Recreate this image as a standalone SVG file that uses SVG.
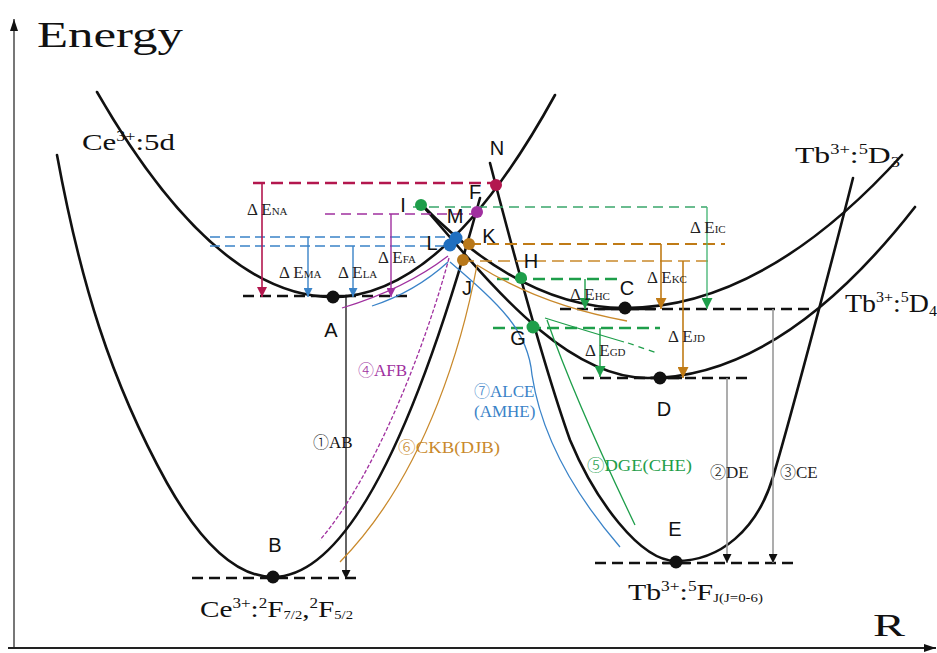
<svg xmlns="http://www.w3.org/2000/svg" width="937" height="653" viewBox="0 0 937 653">
<style>
.curve{fill:none;stroke:#111;stroke-width:2.6;stroke-linecap:round}
.lvl{fill:none;stroke:#111;stroke-width:2.4;stroke-dasharray:11 6}
.solid{fill:none;stroke:#111;stroke-width:2.4}
.lbl{font-family:"Liberation Sans","DejaVu Sans",sans-serif;font-size:20px;fill:#111;text-anchor:middle}
.big{font-family:"Liberation Serif",serif;fill:#111}
.de{font-family:"Liberation Serif",serif;font-size:17px;fill:#222}
.sub{font-size:11px}
.num{font-family:"Liberation Serif",serif;font-size:17px}
.cn{font-family:"Noto Sans CJK SC","DejaVu Sans",sans-serif;font-size:16px;font-weight:300}
.thin{fill:none;stroke-width:1.3}
</style>
<defs>
<marker id="ah-k" viewBox="0 0 10 10" refX="10" refY="5" markerWidth="9" markerHeight="9" markerUnits="userSpaceOnUse" orient="auto"><path d="M0,0 L10,5 L0,10 z" fill="#111"/></marker>
<marker id="ah-r" viewBox="0 0 10 10" refX="10" refY="5" markerWidth="10" markerHeight="10" markerUnits="userSpaceOnUse" orient="auto"><path d="M0,0 L10,5 L0,10 z" fill="#b3174e"/></marker>
<marker id="ah-b" viewBox="0 0 10 10" refX="10" refY="5" markerWidth="9" markerHeight="9" markerUnits="userSpaceOnUse" orient="auto"><path d="M0,0 L10,5 L0,10 z" fill="#3a83c8"/></marker>
<marker id="ah-p" viewBox="0 0 10 10" refX="10" refY="5" markerWidth="9" markerHeight="9" markerUnits="userSpaceOnUse" orient="auto"><path d="M0,0 L10,5 L0,10 z" fill="#a0309f"/></marker>
<marker id="ah-g" viewBox="0 0 10 10" refX="10" refY="5" markerWidth="11" markerHeight="11" markerUnits="userSpaceOnUse" orient="auto"><path d="M0,0 L10,5 L0,10 z" fill="#1e9e4a"/></marker>
<marker id="ah-o" viewBox="0 0 10 10" refX="10" refY="5" markerWidth="11" markerHeight="11" markerUnits="userSpaceOnUse" orient="auto"><path d="M0,0 L10,5 L0,10 z" fill="#c07b16"/></marker>
<marker id="ax" viewBox="0 0 12 8" refX="12" refY="4" markerWidth="13" markerHeight="8" markerUnits="userSpaceOnUse" orient="auto"><path d="M0,0 L12,4 L0,8 z" fill="#111"/></marker>
</defs>
<rect width="937" height="653" fill="#fff"/>

<g id="axes">
<line x1="14" y1="648" x2="14" y2="19" stroke="#777" stroke-width="2" marker-end="url(#ax)"/>
<line x1="8" y1="648" x2="936" y2="648" stroke="#222" stroke-width="2" marker-end="url(#ax)"/>
<text class="big" x="37" y="47" font-size="35" textLength="146" lengthAdjust="spacingAndGlyphs">Energy</text>
<text class="big" x="873" y="636" font-size="32" textLength="32" lengthAdjust="spacingAndGlyphs">R</text>
</g>

<g id="curves">
<path id="ce5d" class="curve" d="M97,92 Q215,297 333,297 Q444,297 555,95"/>
<path id="ce4f" class="curve" d="M57,155 C80,280 110,380 167,483 Q220,577 273,577 Q376.5,577 480,198"/>
<path id="tb7f" class="curve" d="M490,163 C510,240 545,370 570,440 C595,500 640,561 676,561 C720,561 757,530 773,477 C790,420 835,250 853,178"/>
<path id="tb5d3" class="curve" stroke-width="2" d="M421,204 Q523,308 625,308 Q763.5,308 902,155"/>
<path id="tb5d4" class="curve" stroke-width="2" d="M421,204 C480,270 560,378 648,378 Q781.5,378 915,207"/>
</g>

<g id="levels">
<line class="lvl" x1="243" y1="296" x2="409" y2="296"/>
<line class="solid" x1="322" y1="296" x2="347" y2="296"/>
<line class="lvl" x1="192" y1="578" x2="357" y2="578"/>
<line class="lvl" x1="560" y1="309" x2="812" y2="309"/>
<line class="solid" x1="598" y1="309" x2="655" y2="309"/>
<line class="lvl" x1="583" y1="378" x2="748" y2="378"/>
<line class="solid" x1="650" y1="378" x2="682" y2="378"/>
<line class="lvl" x1="595" y1="563" x2="797" y2="563"/>
<line class="solid" x1="662" y1="563" x2="690" y2="563"/>
</g>

<g id="energy-gaps">
<line x1="253" y1="183" x2="496" y2="183" stroke="#b3174e" stroke-width="2.6" stroke-dasharray="12 6"/>
<line x1="325" y1="214" x2="476" y2="214" stroke="#a0309f" stroke-width="1.6" stroke-dasharray="10 6"/>
<line x1="210" y1="237" x2="454" y2="237" stroke="#3a83c8" stroke-width="1.6" stroke-dasharray="10 5"/>
<line x1="210" y1="246" x2="450" y2="246" stroke="#3a83c8" stroke-width="1.6" stroke-dasharray="10 5"/>
<line x1="413" y1="207" x2="707" y2="207" stroke="#3aa66b" stroke-width="1.6" stroke-dasharray="10 6"/>
<line x1="469" y1="244" x2="725" y2="244" stroke="#c07b16" stroke-width="2" stroke-dasharray="12 6"/>
<line x1="462" y1="261" x2="714" y2="261" stroke="#c9892b" stroke-width="1.5" stroke-dasharray="12 6"/>
<line x1="497" y1="279" x2="618" y2="279" stroke="#1e9e4a" stroke-width="2.6" stroke-dasharray="12 6"/>
<line x1="493" y1="328" x2="660" y2="328" stroke="#1e9e4a" stroke-width="2.6" stroke-dasharray="12 6"/>

<line x1="262" y1="183" x2="262" y2="297" stroke="#b3174e" stroke-width="1.6" marker-end="url(#ah-r)"/>
<line x1="308" y1="237" x2="308" y2="297" stroke="#3a83c8" stroke-width="1.4" marker-end="url(#ah-b)"/>
<line x1="353" y1="246" x2="353" y2="297" stroke="#3a83c8" stroke-width="1.4" marker-end="url(#ah-b)"/>
<line x1="391" y1="214" x2="391" y2="297" stroke="#a0309f" stroke-width="1.4" marker-end="url(#ah-p)"/>
<line x1="707" y1="207" x2="707" y2="309" stroke="#4cb87a" stroke-width="1.4" marker-end="url(#ah-g)"/>
<line x1="661" y1="244" x2="661" y2="309" stroke="#c07b16" stroke-width="1.6" marker-end="url(#ah-o)"/>
<line x1="683" y1="261" x2="683" y2="378" stroke="#c07b16" stroke-width="1.6" marker-end="url(#ah-o)"/>
<line x1="585" y1="279" x2="585" y2="309" stroke="#1e9e4a" stroke-width="1.4" marker-end="url(#ah-g)"/>
<line x1="600" y1="328" x2="600" y2="377" stroke="#1e9e4a" stroke-width="1.4" marker-end="url(#ah-g)"/>

<text class="de" x="247" y="215">Δ E<tspan class="sub">NA</tspan></text>
<text class="de" x="279" y="278">Δ E<tspan class="sub">MA</tspan></text>
<text class="de" x="338" y="278">Δ E<tspan class="sub">LA</tspan></text>
<text class="de" x="378" y="263">Δ E<tspan class="sub">FA</tspan></text>
<text class="de" x="690" y="233">Δ E<tspan class="sub">IC</tspan></text>
<text class="de" x="647" y="283">Δ E<tspan class="sub">KC</tspan></text>
<text class="de" x="570" y="300">Δ E<tspan class="sub">HC</tspan></text>
<text class="de" x="668" y="342">Δ E<tspan class="sub">JD</tspan></text>
<text class="de" x="585" y="356">Δ E<tspan class="sub">GD</tspan></text>
</g>

<g id="transitions">
<line x1="346" y1="297" x2="346" y2="579" stroke="#111" stroke-width="1.3" marker-end="url(#ah-k)"/>
<line x1="727" y1="378" x2="727" y2="563" stroke="#999" stroke-width="1.6" marker-end="url(#ah-k)"/>
<line x1="773" y1="309" x2="773" y2="563" stroke="#999" stroke-width="1.6" marker-end="url(#ah-k)"/>
<path class="thin" stroke="#a0309f" d="M342,308 Q405,289 448,256"/>
<path class="thin" stroke="#a0309f" stroke-dasharray="4 2" d="M449,258 C430,330 380,470 320,540"/>
<path class="thin" stroke="#3a83c8" d="M372,306 Q415,292 448,262"/>
<path class="thin" stroke="#3a83c8" d="M450,262 C500,305 528,330 532,375 Q545,460 620,547"/>
<path class="thin" stroke="#c9892b" d="M627,321 Q540,305 477,265"/>
<path class="thin" stroke="#c9892b" d="M477,265 C465,330 430,470 340,562"/>
<path class="thin" stroke="#1e9e4a" d="M545,318 Q580,329 624,342"/>
<path class="thin" stroke="#1e9e4a" stroke-dasharray="6 5" d="M628,343 L657,353"/>
<path class="thin" stroke="#1e9e4a" d="M547,320 Q575,400 635,525"/>

<text class="num" x="313" y="448" fill="#111"><tspan class="cn">①</tspan>AB</text>
<text class="num" x="358" y="376" fill="#a0309f"><tspan class="cn">④</tspan>AFB</text>
<text class="num" x="398" y="453" fill="#c9892b" textLength="102" lengthAdjust="spacingAndGlyphs"><tspan class="cn">⑥</tspan>CKB(DJB)</text>
<text class="num" x="474" y="397" fill="#3a83c8"><tspan class="cn">⑦</tspan>ALCE</text>
<text class="num" x="474" y="417" fill="#3a83c8">(AMHE)</text>
<text class="num" x="587" y="471" fill="#1e9e4a" textLength="105" lengthAdjust="spacingAndGlyphs"><tspan class="cn">⑤</tspan>DGE(CHE)</text>
<text class="num" x="710" y="478" fill="#222"><tspan class="cn">②</tspan>DE</text>
<text class="num" x="780" y="478" fill="#222"><tspan class="cn">③</tspan>CE</text>
</g>

<g id="states">
<text class="big" x="82" y="150" font-size="24" textLength="93" lengthAdjust="spacingAndGlyphs">Ce<tspan font-size="14" dy="-9">3+</tspan><tspan dy="9">:5d</tspan></text>
<text class="big" x="795" y="163" font-size="24" textLength="105" lengthAdjust="spacingAndGlyphs">Tb<tspan font-size="14" dy="-9">3+</tspan><tspan dy="9">:</tspan><tspan font-size="14" dy="-9">5</tspan><tspan dy="9">D</tspan><tspan font-size="14" dy="4">3</tspan></text>
<text class="big" x="845" y="312" font-size="26" textLength="92" lengthAdjust="spacingAndGlyphs">Tb<tspan font-size="15" dy="-10">3+</tspan><tspan dy="10">:</tspan><tspan font-size="15" dy="-10">5</tspan><tspan dy="10">D</tspan><tspan font-size="15" dy="4">4</tspan></text>
<text class="big" x="200" y="617" font-size="24" textLength="153" lengthAdjust="spacingAndGlyphs">Ce<tspan font-size="14" dy="-9">3+</tspan><tspan dy="9">:</tspan><tspan font-size="14" dy="-9">2</tspan><tspan dy="9">F</tspan><tspan font-size="12" dy="2">7/2</tspan><tspan dy="-2">,</tspan><tspan font-size="14" dy="-9">2</tspan><tspan dy="9">F</tspan><tspan font-size="12" dy="2">5/2</tspan></text>
<text class="big" x="628" y="600" font-size="24" textLength="135" lengthAdjust="spacingAndGlyphs">Tb<tspan font-size="14" dy="-9">3+</tspan><tspan dy="9">:</tspan><tspan font-size="14" dy="-9">5</tspan><tspan dy="9">F</tspan><tspan font-size="12" dy="2">J(J=0-6)</tspan></text>
</g>

<g id="point-A"><circle cx="333" cy="297" r="6.5" fill="#111"/><text class="lbl" x="331" y="337">A</text></g>
<g id="point-B"><circle cx="273" cy="577" r="6.5" fill="#111"/><text class="lbl" x="275" y="552">B</text></g>
<g id="point-C"><circle cx="625" cy="308" r="6.5" fill="#111"/><text class="lbl" x="627" y="295">C</text></g>
<g id="point-D"><circle cx="660" cy="378" r="6.5" fill="#111"/><text class="lbl" x="664" y="416">D</text></g>
<g id="point-E"><circle cx="676" cy="562" r="6.5" fill="#111"/><text class="lbl" x="675" y="536">E</text></g>
<g id="point-F"><circle cx="477" cy="212" r="6" fill="#a0309f"/><text class="lbl" x="475" y="199">F</text></g>
<g id="point-G"><circle cx="533" cy="327" r="6.5" fill="#1e9e4a"/><text class="lbl" x="518" y="345">G</text></g>
<g id="point-H"><circle cx="521" cy="278" r="6" fill="#1e9e4a"/><text class="lbl" x="531" y="268">H</text></g>
<g id="point-I"><circle cx="421" cy="205" r="6" fill="#1e9e4a"/><text class="lbl" x="403" y="212">I</text></g>
<g id="point-J"><circle cx="463" cy="260" r="6" fill="#b8781a"/><text class="lbl" x="467" y="295">J</text></g>
<g id="point-K"><circle cx="469" cy="244" r="6" fill="#b8781a"/><text class="lbl" x="489" y="243">K</text></g>
<g id="point-L"><circle cx="456" cy="238" r="6.5" fill="#1f6fc0"/><circle cx="450" cy="245" r="6.5" fill="#1f6fc0"/><text class="lbl" x="432" y="250">L</text></g>
<g id="point-M"><text class="lbl" x="455" y="223">M</text></g>
<g id="point-N"><circle cx="496" cy="185" r="6" fill="#b3174e"/><text class="lbl" x="497" y="155">N</text></g>
</svg>
